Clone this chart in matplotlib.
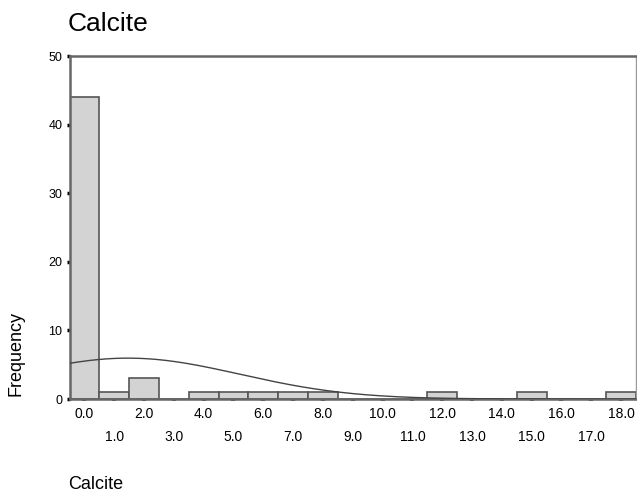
import numpy as np
import matplotlib.pyplot as plt

plt.rcParams['font.family'] = ['Liberation Sans', 'DejaVu Sans']

# histogram of calcite values, bins of width 1 centred on 0..18
bin_centers = np.arange(0, 19)
counts = [44, 1, 3, 0, 1, 1, 1, 1, 1, 0, 0, 0, 1, 0, 0, 1, 0, 0, 1]
tick_labels = ['%.1f' % v for v in bin_centers]

# normal fit parameters
n_cases = 56
mean_val = 1.46
std_val = 3.75

fig = plt.figure(figsize=(6.37, 4.94), dpi=100)
ax = fig.add_axes([69.5 / 637, 95 / 494, 566.5 / 637, 343 / 494])

ax.bar(bin_centers, counts, width=1.0, color='#d3d3d3', edgecolor='#555555', linewidth=1.2, zorder=2)

xs = np.linspace(-0.5, 18.5, 400)
curve = n_cases * 1.0 / (std_val * np.sqrt(2 * np.pi)) * np.exp(-(xs - mean_val) ** 2 / (2 * std_val ** 2))
ax.plot(xs, curve, color='#444444', linewidth=1.0, zorder=3)

ax.set_xlim(-0.5, 18.5)
ax.set_ylim(0, 50)
ax.set_yticks([0, 10, 20, 30, 40, 50])
ax.tick_params(axis='y', length=2, width=2.5, color='black', labelsize=9, pad=3)

# staggered x labels: even on the first row, odd on the second
ax.set_xticks(bin_centers[::2])
ax.set_xticklabels(tick_labels[::2])
ax.set_xticks(bin_centers[1::2], minor=True)
ax.set_xticklabels(tick_labels[1::2], minor=True)
ax.tick_params(axis='x', which='major', length=1.5, width=3, color='#555555', labelsize=10, pad=4)
ax.tick_params(axis='x', which='minor', length=1.5, width=3, color='#555555', labelsize=10, pad=21)

for side in ['left', 'top', 'bottom']:
    ax.spines[side].set_color('#666666')
    ax.spines[side].set_linewidth(1.8)
ax.spines['right'].set_color('#999999')
ax.spines['right'].set_linewidth(1.0)

fig.text(68 / 637, 1 - 31 / 494, 'Calcite', fontsize=19, ha='left', va='baseline')
fig.text(68 / 637, 1 - 484 / 494, 'Calcite', fontsize=13, ha='left', va='center')
fig.text(15.5 / 637, 1 - 353 / 494, 'Frequency', fontsize=13, rotation=90, ha='center', va='center')

fig.savefig('out.png', dpi=100)
